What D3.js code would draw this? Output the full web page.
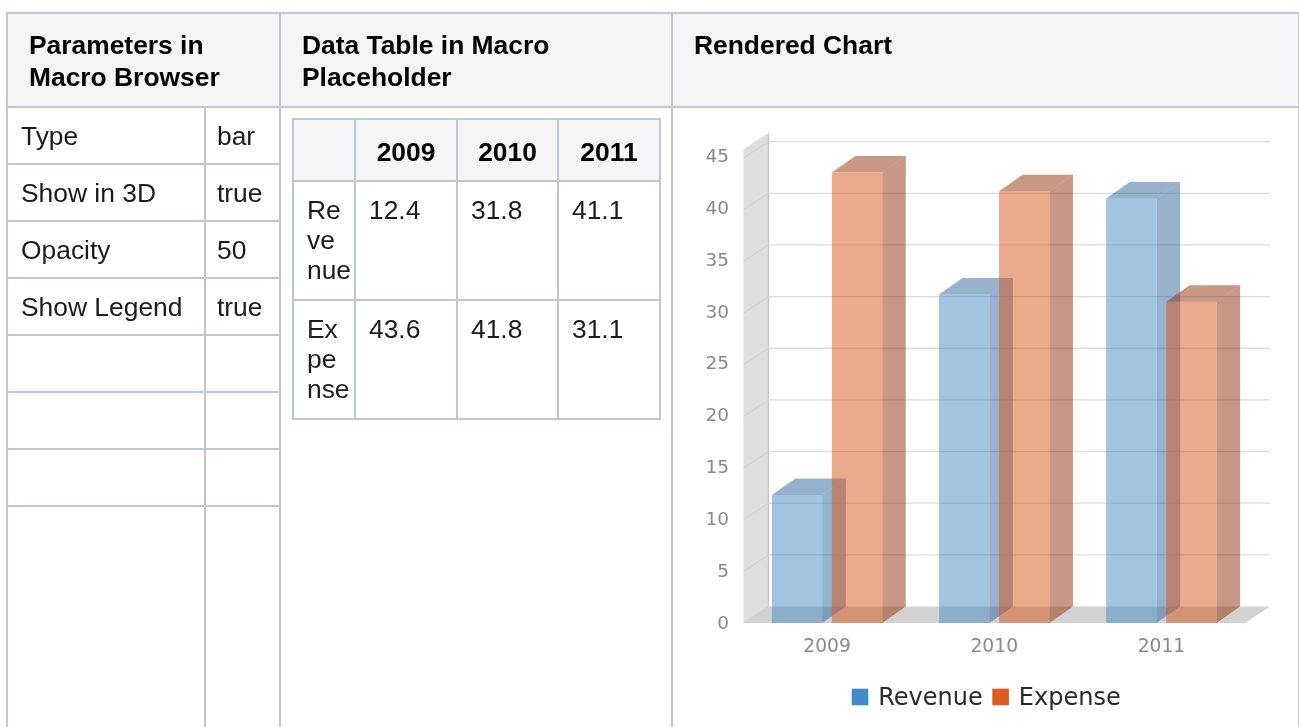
<!DOCTYPE html>
<html><head><meta charset="utf-8">
<script src="https://cdn.jsdelivr.net/npm/d3@7/dist/d3.min.js"></script>
<style>
html,body{margin:0;padding:0;background:#fff;width:1299px;height:727px;overflow:hidden;font-family:"Liberation Sans",Arial,sans-serif}
#tables{filter:blur(0.3px);position:absolute;left:0;top:0;width:1299px;height:727px}
table{border-collapse:collapse;table-layout:fixed;font-size:26.4px;line-height:32px;color:#1c1c1c}
td,th{border:2px solid #c1c7d0;vertical-align:top;text-align:left;box-sizing:border-box;white-space:nowrap}
th{background:#f4f5f7;font-weight:bold;color:#000;padding:15px 10px 13px 21px;white-space:normal}
#outer{position:absolute;left:6px;top:12px;width:1292px}
#outer td{padding:12px 4px 10px 13px}
#outer td.v{padding-left:11px}
#outer td.h{height:57px}
#inner{position:absolute;left:292px;top:118px;width:367px}
#inner th{text-align:center;padding:16px 0 12px 0;height:62px}
#inner td{padding:13px 2px 12px 13px;height:119px;line-height:30px}
svg{position:absolute;left:0;top:0;pointer-events:none}
</style></head><body>
<div id="tables"></div>
<svg id="chart" width="1299" height="727"></svg>
<script>
const headers = ["Parameters in Macro Browser","Data Table in Macro Placeholder","Rendered Chart"];
const paramNames = ["Type","Show in 3D","Opacity","Show Legend","","",""];
const paramValues = ["bar","true","50","true","","",""];
const categories = ["2009","2010","2011"];
const seriesNames = ["Revenue","Expense"];
const seriesWrapped = [["Re","ve","nue"],["Ex","pe","nse"]];
const tableRevenue = ["12.4","31.8","41.1"];
const tableExpense = ["43.6","41.8","31.1"];
const revenue = [12.4,31.8,41.1];
const expense = [43.6,41.8,31.1];
const yTicks = [0,5,10,15,20,25,30,35,40,45];

// ---------- tables
const root = d3.select("#tables");
const outer = root.append("table").attr("id","outer");
const cg = outer.append("colgroup");
[198,75,392,627].forEach(w=>cg.append("col").style("width",w+"px"));
const hr = outer.append("tr").style("height","94px");
headers.forEach((h,i)=>hr.append("th").attr("colspan",i===0?2:1).text(h));
paramNames.forEach((n,i)=>{
  const r = outer.append("tr");
  r.append("td").attr("class","h").text(n);
  r.append("td").attr("class","h v").text(paramValues[i]);
  if(i===0){ r.append("td").attr("rowspan",8); r.append("td").attr("rowspan",8); }
});
const lastRow = outer.append("tr").style("height","260px");
lastRow.append("td"); lastRow.append("td");

const inner = root.append("table").attr("id","inner");
const cg2 = inner.append("colgroup");
[62,102,101,102].forEach(w=>cg2.append("col").style("width",w+"px"));
const ihr = inner.append("tr");
ihr.append("th");
categories.forEach(c=>ihr.append("th").text(c));
[tableRevenue,tableExpense].forEach((vals,i)=>{
  const r = inner.append("tr");
  r.append("td").html(seriesWrapped[i].join("<br>"));
  vals.forEach(v=>r.append("td").text(v));
});

// ---------- chart
const svg = d3.select("#chart");
const g = svg.append("g").style("filter","blur(0.55px)");
const font = "'DejaVu Sans'";
const wallDX = 25, wallDY = 16.5, barDX = 23.5, barDY = 16.5;
const x0 = d3.scaleBand().domain(categories).range([743.5,1245]);
const x1 = d3.scaleBand().domain(seriesNames).range([0,x0.bandwidth()]).paddingInner(0.16).paddingOuter(0.473);
const y = d3.scaleLinear().domain([0,45.85]).range([623,623-45.85*10.33]);
const yLabel = d3.scaleLinear().domain([0,45]).range([622.5,155.5]);
const [xL,xR] = x0.range();
const [yB,yT] = y.range();
const poly = pts => pts.map(p=>p.join(",")).join(" ");

// wall and floor
g.append("polygon").attr("points",poly([[xL,yB],[xL,yT],[xL+wallDX,yT-wallDY],[xL+wallDX,yB-wallDY]])).attr("fill","#dddddd");
g.append("polygon").attr("points",poly([[xL,yB],[xL+wallDX,yB-wallDY],[xR+wallDX,yB-wallDY],[xR,yB]])).attr("fill","#d2d2d2");
g.append("line").attr("x1",xL+wallDX).attr("x2",xL+wallDX).attr("y1",yT-wallDY).attr("y2",yB-wallDY).attr("stroke","#c4c4c4").attr("stroke-width",1.2);

// gridlines
yTicks.forEach(t=>{
  if(t>0) g.append("line").attr("x1",xL+wallDX).attr("x2",xR+wallDX).attr("y1",y(t)-wallDY).attr("y2",y(t)-wallDY).attr("stroke","#dcdcdc").attr("stroke-width",1.3);
  g.append("line").attr("x1",xL).attr("x2",xL+wallDX).attr("y1",y(t)).attr("y2",y(t)-wallDY).attr("stroke","#cfcfcf").attr("stroke-width",1);
});

// bars
const front = {Revenue:"#4489c4",Expense:"#d9561c"};
const side = {Revenue:"#2d659b",Expense:"#91310a"};
const legendColor = {Revenue:"#428bca",Expense:"#dc5b20"};
const seriesData = {Revenue:revenue,Expense:expense};
seriesNames.forEach(s=>{
  categories.forEach((c,i)=>{
    const bx = x0(c)+x1(s), bw = x1.bandwidth(), top = y(seriesData[s][i]), bot = y(0);
    const b = g.append("g").attr("fill-opacity",0.5);
    b.append("polygon").attr("points",poly([[bx+bw,top],[bx+bw+barDX,top-barDY],[bx+bw+barDX,bot-barDY],[bx+bw,bot]])).attr("fill",side[s]);
    b.append("polygon").attr("points",poly([[bx,top],[bx+barDX,top-barDY],[bx+bw+barDX,top-barDY],[bx+bw,top]])).attr("fill",side[s]);
    b.append("rect").attr("x",bx).attr("y",top).attr("width",bw).attr("height",bot-top).attr("fill",front[s]);
  });
});

// axes
const yAxis = g.append("g").attr("transform","translate(737,0)").call(d3.axisLeft(yLabel).tickValues(yTicks).tickSize(0).tickPadding(8));
yAxis.select(".domain").remove();
yAxis.selectAll("text").attr("font-family",font).attr("font-size",18.5).attr("fill","#8a8a8a");
const xAxis = g.append("g").attr("transform","translate(0,634)").call(d3.axisBottom(x0).tickSize(0).tickPadding(0));
xAxis.select(".domain").remove();
xAxis.selectAll("text").attr("font-family",font).attr("font-size",18.7).attr("fill","#8a8a8a").attr("dy","0.71em").attr("y",5);

// legend
const legendX = {Revenue:851.7,Expense:992.3};
seriesNames.forEach(s=>{
  g.append("rect").attr("x",legendX[s]).attr("y",688.7).attr("width",16.6).attr("height",16.6).attr("fill",legendColor[s]);
  g.append("text").attr("x",legendX[s]+26.5).attr("y",705).attr("font-family",font).attr("font-size",24).attr("fill","#2a2a2a").text(s);
});
</script>
</body></html>
